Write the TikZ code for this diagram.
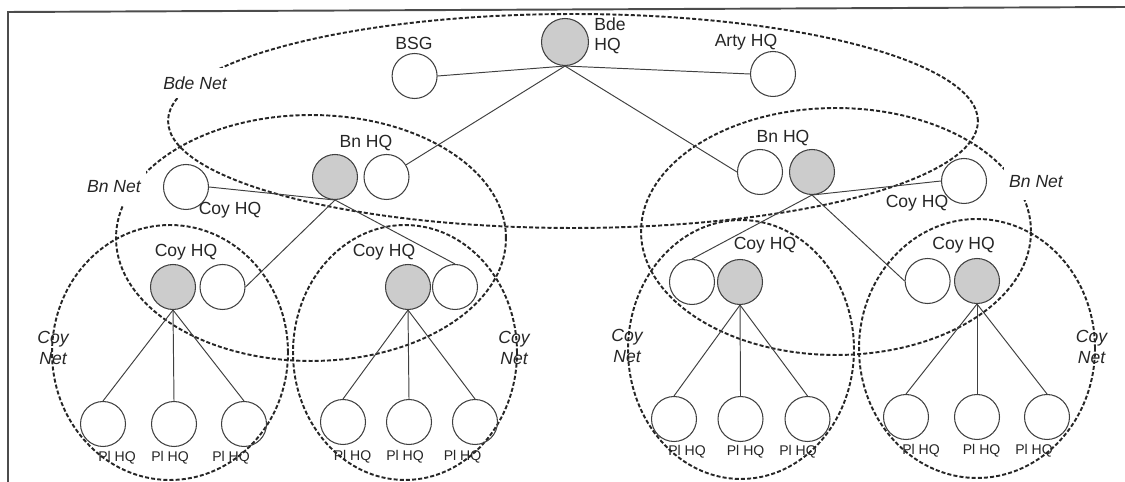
\documentclass[tikz,border=0pt]{standalone}
\usepackage{fontspec}
\setmainfont{Liberation Sans}
\begin{document}
\begin{tikzpicture}[x=0.02cm,y=-0.02cm,
  net/.style={draw=black!85,line width=1.1pt,dash pattern=on 2.3pt off 1.2pt},
  hq/.style={circle,draw=black!75,line width=0.6pt,minimum size=0.9cm,inner sep=0pt},
  cmd/.style={hq,fill=gray!40},
  link/.style={draw=black!75,line width=0.55pt},
  lbl/.style={font=\fontsize{10}{12}\selectfont,text=black!85,inner sep=0pt},
  pl/.style={font=\fontsize{8}{9.6}\selectfont,text=black!85,inner sep=0pt},
  netlbl/.style={font=\fontsize{10}{11.5}\selectfont\itshape,text=black!85,align=center,inner sep=0pt},
  gap/.style={netlbl,fill=white,inner xsep=3pt,inner ysep=5pt},
]
\useasboundingbox (0,0) rectangle (1125,482);

% frame
\coordinate (fa) at (8,482);
\coordinate (fb) at (8,12);
\coordinate (fc) at (1125,7);
\draw[black!70,line width=1.1pt] (fa) -- (fb) -- (fc);

% radio nets
\draw[net] (573,121) ellipse [x radius=8.1cm, y radius=2.14cm];
\draw[net] (311,238) ellipse [x radius=3.9cm, y radius=2.46cm];
\draw[net] (836,231.5) ellipse [x radius=3.9cm, y radius=2.47cm];
\draw[net] (170,352.5) ellipse [x radius=2.36cm, y radius=2.55cm];
\draw[net] (405,352.5) ellipse [x radius=2.24cm, y radius=2.55cm];
\draw[net] (741,349.5) ellipse [x radius=2.26cm, y radius=2.59cm];
\draw[net] (977,348.5) ellipse [x radius=2.36cm, y radius=2.59cm];

% brigade level
\node[cmd,minimum size=0.94cm] (bde) at (565,42) {};
\node[hq] (bsg) at (414.6,76) {};
\node[hq] (arty) at (773,74) {};

% battalions
\node[cmd] (bnLg) at (335,177) {};
\node[hq] (bnLw) at (386.5,177) {};
\node[hq] (coyL) at (186,187) {};
\node[hq] (bnRw) at (760,172) {};
\node[cmd] (bnRg) at (812,172) {};
\node[hq] (coyR) at (964,181) {};

% companies
\node[cmd] (c1g) at (173,287) {};
\node[hq] (c1w) at (222.5,287) {};
\node[cmd] (c2g) at (408,287) {};
\node[hq] (c2w) at (455,287) {};
\node[hq] (c3w) at (692,282) {};
\node[cmd] (c3g) at (740,282) {};
\node[hq] (c4w) at (927.6,281) {};
\node[cmd] (c4g) at (977,281) {};

% platoons
\node[hq] (p11) at (103,424) {};
\node[hq] (p12) at (174,424) {};
\node[hq] (p13) at (244,424) {};
\node[hq] (p21) at (343,422) {};
\node[hq] (p22) at (409,422) {};
\node[hq] (p23) at (475,422) {};
\node[hq] (p31) at (674,419) {};
\node[hq] (p32) at (740.5,419) {};
\node[hq] (p33) at (807.5,419) {};
\node[hq] (p41) at (906,417) {};
\node[hq] (p42) at (977,417) {};
\node[hq] (p43) at (1047,417) {};

% links
\draw[link] (bde.south) -- (bsg.east);
\draw[link] (bde.south) -- (arty.west);
\draw[link] (bde.south) -- (bnLw);
\draw[link] (bde.south) -- (bnRw.west);
\draw[link] (bnLg.south) -- (coyL.east);
\draw[link] (bnLg.south) -- (c1w.east);
\draw[link] (bnLg.south) -- (c2w.north);
\draw[link] (bnRg.south) -- (coyR.west);
\draw[link] (bnRg.south) -- (c3w.north);
\draw[link] (bnRg.south) -- (c4w.west);
\foreach \c in {1,2,3,4}{
  \foreach \p in {1,2,3}{
    \draw[link] (c\c g.south) -- (p\c\p.north);
  }
}

% labels
\node[lbl] (tbsg) at (414,43) {BSG};
\node[lbl,anchor=west,align=left,font=\fontsize{10}{11.5}\selectfont] (tbde) at (594,36) {Bde\\HQ};
\node[lbl] (tarty) at (746,42) {Arty HQ};
\node[lbl] (tbnL) at (366,143) {Bn HQ};
\node[lbl] (tbnR) at (783,138) {Bn HQ};
\node[lbl] (tcoyL) at (230,210) {Coy HQ};
\node[lbl] (tcoyR) at (917,203) {Coy HQ};
\node[lbl] (tc1) at (186,252) {Coy HQ};
\node[lbl] (tc2) at (384,252) {Coy HQ};
\node[lbl] (tc3) at (765,245) {Coy HQ};
\node[lbl] (tc4) at (963.6,245) {Coy HQ};

\node[pl] (tp11) at (117,458) {Pl HQ};
\node[pl] (tp12) at (170,458) {Pl HQ};
\node[pl] (tp13) at (231,458) {Pl HQ};
\node[pl] (tp21) at (352.5,457) {Pl HQ};
\node[pl] (tp22) at (405,457) {Pl HQ};
\node[pl] (tp23) at (462.5,457) {Pl HQ};
\node[pl] (tp31) at (687,452) {Pl HQ};
\node[pl] (tp32) at (745.6,452) {Pl HQ};
\node[pl] (tp33) at (798,452) {Pl HQ};
\node[pl] (tp41) at (921,451) {Pl HQ};
\node[pl] (tp42) at (981.6,451) {Pl HQ};
\node[pl] (tp43) at (1034,451) {Pl HQ};

% net names
\node[gap] (nbde) at (195,83) {Bde Net};
\node[gap,inner ysep=7pt] (nbnL) at (114,187) {Bn Net};
\node[gap,inner ysep=7pt] (nbnR) at (1036,182) {Bn Net};
\node[netlbl] (nc1) at (53,348) {Coy\\Net};
\node[netlbl] (nc2) at (514,348) {Coy\\Net};
\node[netlbl] (nc3) at (627,346) {Coy\\Net};
\node[netlbl] (nc4) at (1091.5,347) {Coy\\Net};
\end{tikzpicture}
\end{document}
